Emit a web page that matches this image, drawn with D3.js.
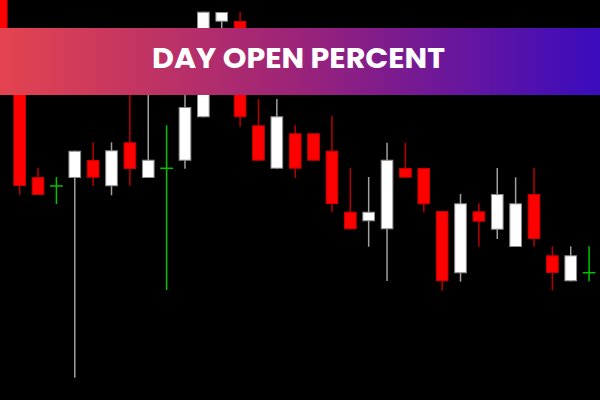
<!DOCTYPE html>
<html>
<head>
<meta charset="utf-8">
<script src="https://cdn.jsdelivr.net/npm/d3@7"></script>
<style>
  html, body { margin: 0; padding: 0; background: #000; }
  svg { display: block; }
</style>
</head>
<body>
<svg id="chart" width="600" height="400"></svg>
<script>
// ---- data ----
const title = "DAY OPEN PERCENT";
const candleIndex = d3.range(33);
const openPrices  = [1.1203,1.1140,1.1023,1.1014,1.1022,1.1040,1.10137,1.10577,1.1022,1.10317,1.10393,1.10827,1.11783,1.1179,1.10747,1.10313,1.10667,1.10667,1.10493,1.09883,1.09787,1.09707,1.1032,1.1032,1.0989,1.09267,1.09887,1.09703,1.0953,1.1006,1.09447,1.09187,1.09273];
const highPrices  = [1.1208,1.1145,1.1032,1.1023,1.10493,1.10577,1.10577,1.1120,1.1115,1.10747,1.1120,1.11883,1.1188,1.1188,1.1101,1.1101,1.10747,1.10667,1.1084,1.1032,1.1023,1.10573,1.10573,1.1032,1.0989,1.1006,1.09967,1.1032,1.10227,1.1032,1.09537,1.09537,1.09537];
const lowPrices   = [1.1112,1.1005,1.1005,1.0996,1.08223,1.1014,1.10047,1.10143,1.1022,1.0910,1.10313,1.10827,1.1165,1.10733,1.10393,1.10313,1.10223,1.10393,1.09877,1.09707,1.09533,1.0919,1.10223,1.09877,1.09093,1.09183,1.09533,1.0961,1.0953,1.09533,1.09097,1.09187,1.09187];
const closePrices = [1.1120,1.1014,1.1005,1.1014,1.10493,1.10223,1.10497,1.1031,1.10403,1.10317,1.1093,1.11883,1.1188,1.10827,1.10393,1.10837,1.10313,1.10393,1.0996,1.09707,1.09883,1.10403,1.10223,1.09957,1.09187,1.09967,1.09783,1.1006,1.09967,1.0961,1.0927,1.09447,1.09273];

const candles = candleIndex.map(i => ({
  i, o: openPrices[i], h: highPrices[i], l: lowPrices[i], c: closePrices[i]
}));

// ---- layout ----
const W = 600, H = 400;
const svg = d3.select("#chart");
svg.append("rect").attr("width", W).attr("height", H).attr("fill", "#000");

const x = d3.scalePoint().domain(candleIndex).range([1.3, 589.1]);
const y = d3.scaleLinear().domain([1.08, 1.12]).range([H, 0]);
const bodyW = x.step() * 0.69;

function kind(d) {
  if (Math.abs(d.o - d.c) < 1e-9) return "doji";
  return d.c > d.o ? "up" : "down";
}
const wickColor = { up: "#a0a0a0", down: "#b80000", doji: "#00c400" };
const bodyFill = { up: "#ffffff", down: "#ff0000" };
const bodyStroke = { up: "#8a8a8a", down: "#c80000" };

const g = svg.append("g");

// wicks
g.selectAll("line.wick").data(candles).join("line")
  .attr("class", "wick")
  .attr("x1", d => x(d.i)).attr("x2", d => x(d.i))
  .attr("y1", d => y(d.h)).attr("y2", d => y(d.l))
  .attr("stroke", d => wickColor[kind(d)])
  .attr("stroke-width", 1.5);

// bodies
g.selectAll("rect.body").data(candles.filter(d => kind(d) !== "doji")).join("rect")
  .attr("class", "body")
  .attr("x", d => x(d.i) - bodyW / 2 + 0.5)
  .attr("width", bodyW - 1)
  .attr("y", d => y(Math.max(d.o, d.c)) + 0.5)
  .attr("height", d => Math.max(1, y(Math.min(d.o, d.c)) - y(Math.max(d.o, d.c)) - 1))
  .attr("fill", d => bodyFill[kind(d)])
  .attr("stroke", d => bodyStroke[kind(d)])
  .attr("stroke-width", 1);

// doji crosses
g.selectAll("line.doji").data(candles.filter(d => kind(d) === "doji")).join("line")
  .attr("class", "doji")
  .attr("x1", d => x(d.i) - bodyW / 2).attr("x2", d => x(d.i) + bodyW / 2)
  .attr("y1", d => y(d.o)).attr("y2", d => y(d.o))
  .attr("stroke", "#00c400")
  .attr("stroke-width", 1.5);

// ---- banner ----
const defs = svg.append("defs");
const grad = defs.append("linearGradient").attr("id", "bannerGrad")
  .attr("x1", "0%").attr("x2", "100%").attr("y1", "0%").attr("y2", "0%");
grad.append("stop").attr("offset", "0%").attr("stop-color", "#e4444f");
grad.append("stop").attr("offset", "50%").attr("stop-color", "#9b2379");
grad.append("stop").attr("offset", "100%").attr("stop-color", "#3a0bbe");

svg.append("rect")
  .attr("x", 0).attr("y", 28).attr("width", W).attr("height", 67)
  .attr("fill", "url(#bannerGrad)");

svg.append("text")
  .attr("x", 298.5).attr("y", 68)
  .attr("text-anchor", "middle")
  .attr("font-family", "Poppins, Lato, 'Open Sans', sans-serif")
  .attr("font-weight", "bold")
  .attr("font-size", 28)
  .attr("fill", "#ffffff")
  .attr("textLength", 293)
  .attr("lengthAdjust", "spacingAndGlyphs")
  .text(title);
</script>
</body>
</html>
